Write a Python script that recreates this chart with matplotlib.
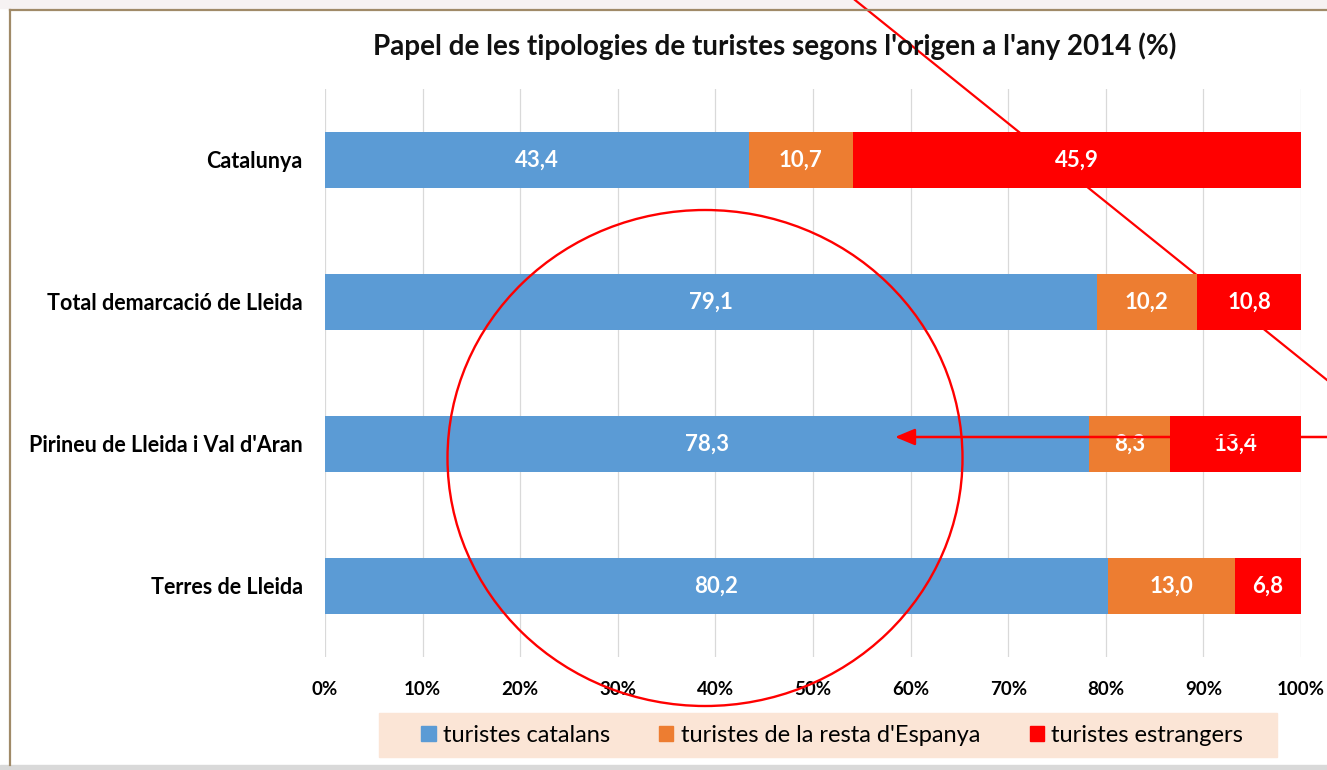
import matplotlib
matplotlib.use("Agg")
import matplotlib.pyplot as plt
from matplotlib.patches import Ellipse, Rectangle
from matplotlib.lines import Line2D
import numpy as np

plt.rcParams['font.family'] = ['Lato', 'DejaVu Sans']

categories = ["Catalunya", "Total demarcació de Lleida",
              "Pirineu de Lleida i Val d'Aran", "Terres de Lleida"]
catalans = [43.4, 79.1, 78.3, 80.2]
resta_espanya = [10.7, 10.2, 8.3, 13.0]
estrangers = [45.9, 10.8, 13.4, 6.8]
series_names = ["turistes catalans", "turistes de la resta d'Espanya", "turistes estrangers"]
colors = ["#5B9BD5", "#ED7D31", "#FF0000"]
xticks = [0, 10, 20, 30, 40, 50, 60, 70, 80, 90, 100]
xtick_labels = [f"{t}%" for t in xticks]
title = "Papel de les tipologies de turistes segons l'origen a l'any 2014 (%)"

W, H = 1327, 770
fig = plt.figure(figsize=(W / 100, H / 100), dpi=100)
fig.patch.set_facecolor("white")

def fx(px):
    return px / W

def fy(py):
    return 1 - py / H

ax = fig.add_axes([fx(325), fy(657), fx(1301) - fx(325), fy(89) - fy(657)])
ax.set_facecolor("none")

y = np.arange(len(categories))
series = [catalans, resta_espanya, estrangers]
left = np.zeros(len(categories))
for vals, name, col in zip(series, series_names, colors):
    vals = np.array(vals)
    ax.barh(y, vals, left=left, height=0.394, color=col, label=name, zorder=3)
    for yi, (l, v) in enumerate(zip(left, vals)):
        ax.text(l + v / 2, yi, f"{v:.1f}".replace(".", ","), ha="center", va="center",
                color="white", fontsize=16, fontweight="bold", zorder=4)
    left = left + vals

ax.set_xlim(0, 100)
ax.set_ylim(3.5, -0.5)
ax.set_xticks(xticks)
ax.set_xticklabels(xtick_labels, fontsize=13.5, fontweight="bold")
ax.set_yticks(y)
ax.set_yticklabels(categories, fontsize=15.5, fontweight="bold")
ax.tick_params(axis="both", length=0)
ax.tick_params(axis="x", pad=17)
ax.tick_params(axis="y", pad=16)
ax.grid(axis="x", color="#D9D9D9", linewidth=0.9, zorder=0)
ax.set_axisbelow(True)
for s in ax.spines.values():
    s.set_visible(False)

# Title
fig.text(fx(775), fy(46), title, ha="center", va="center", fontsize=20, fontweight="bold",
         color="#111111")

# Frame lines
fig.add_artist(Rectangle((0, 0), 1, fy(765), transform=fig.transFigure, color="#D9D9D9", zorder=0))
fig.add_artist(Rectangle((0, fy(8)), 1, 1 - fy(8), transform=fig.transFigure, color="#F6F2F2", zorder=0))
fig.add_artist(Line2D([fx(9.5), fx(9.5)], [fy(9.5), fy(765)], color="#A08A68", linewidth=1.6))
fig.add_artist(Line2D([fx(9.5), 1.0], [fy(9.5), fy(9.5)], color="#A08A68", linewidth=1.6))

# Diagonal red line (behind bars)
ax.add_line(Line2D([fx(855), fx(1327)], [fy(0), fy(380)], transform=fig.transFigure,
                   color="#FF0000", linewidth=1.6, zorder=2, clip_on=False))

# Horizontal arrow (in front)
ax.annotate("", xy=(fx(895), fy(437)), xycoords="figure fraction",
            xytext=(fx(1327), fy(437)), textcoords="figure fraction",
            arrowprops=dict(arrowstyle="-|>,head_length=1.2,head_width=0.5",
                            color="#FF0000", lw=1.8, shrinkA=0, shrinkB=0),
            zorder=6, annotation_clip=False)

# Circle
fig.add_artist(Ellipse((fx(705), fy(458)), fx(515), 496 / H, transform=fig.transFigure,
                       fill=False, edgecolor="#FF0000", linewidth=1.7, zorder=7))

# Legend background
fig.add_artist(Rectangle((fx(379), fy(757)), fx(1277) - fx(379), (757 - 713) / H,
                         transform=fig.transFigure, color="#FBE5D6", zorder=1))
handles = [Rectangle((0, 0), 1, 1, color=c) for c in colors]
leg = fig.legend(handles, series_names, loc="center", bbox_to_anchor=(fx(832), fy(735)),
                 ncol=3, frameon=False, fontsize=17, handlelength=0.6, handleheight=0.6,
                 handletextpad=0.3, columnspacing=2.1)
leg.set_zorder(8)

fig.savefig("out.png", dpi=100)
